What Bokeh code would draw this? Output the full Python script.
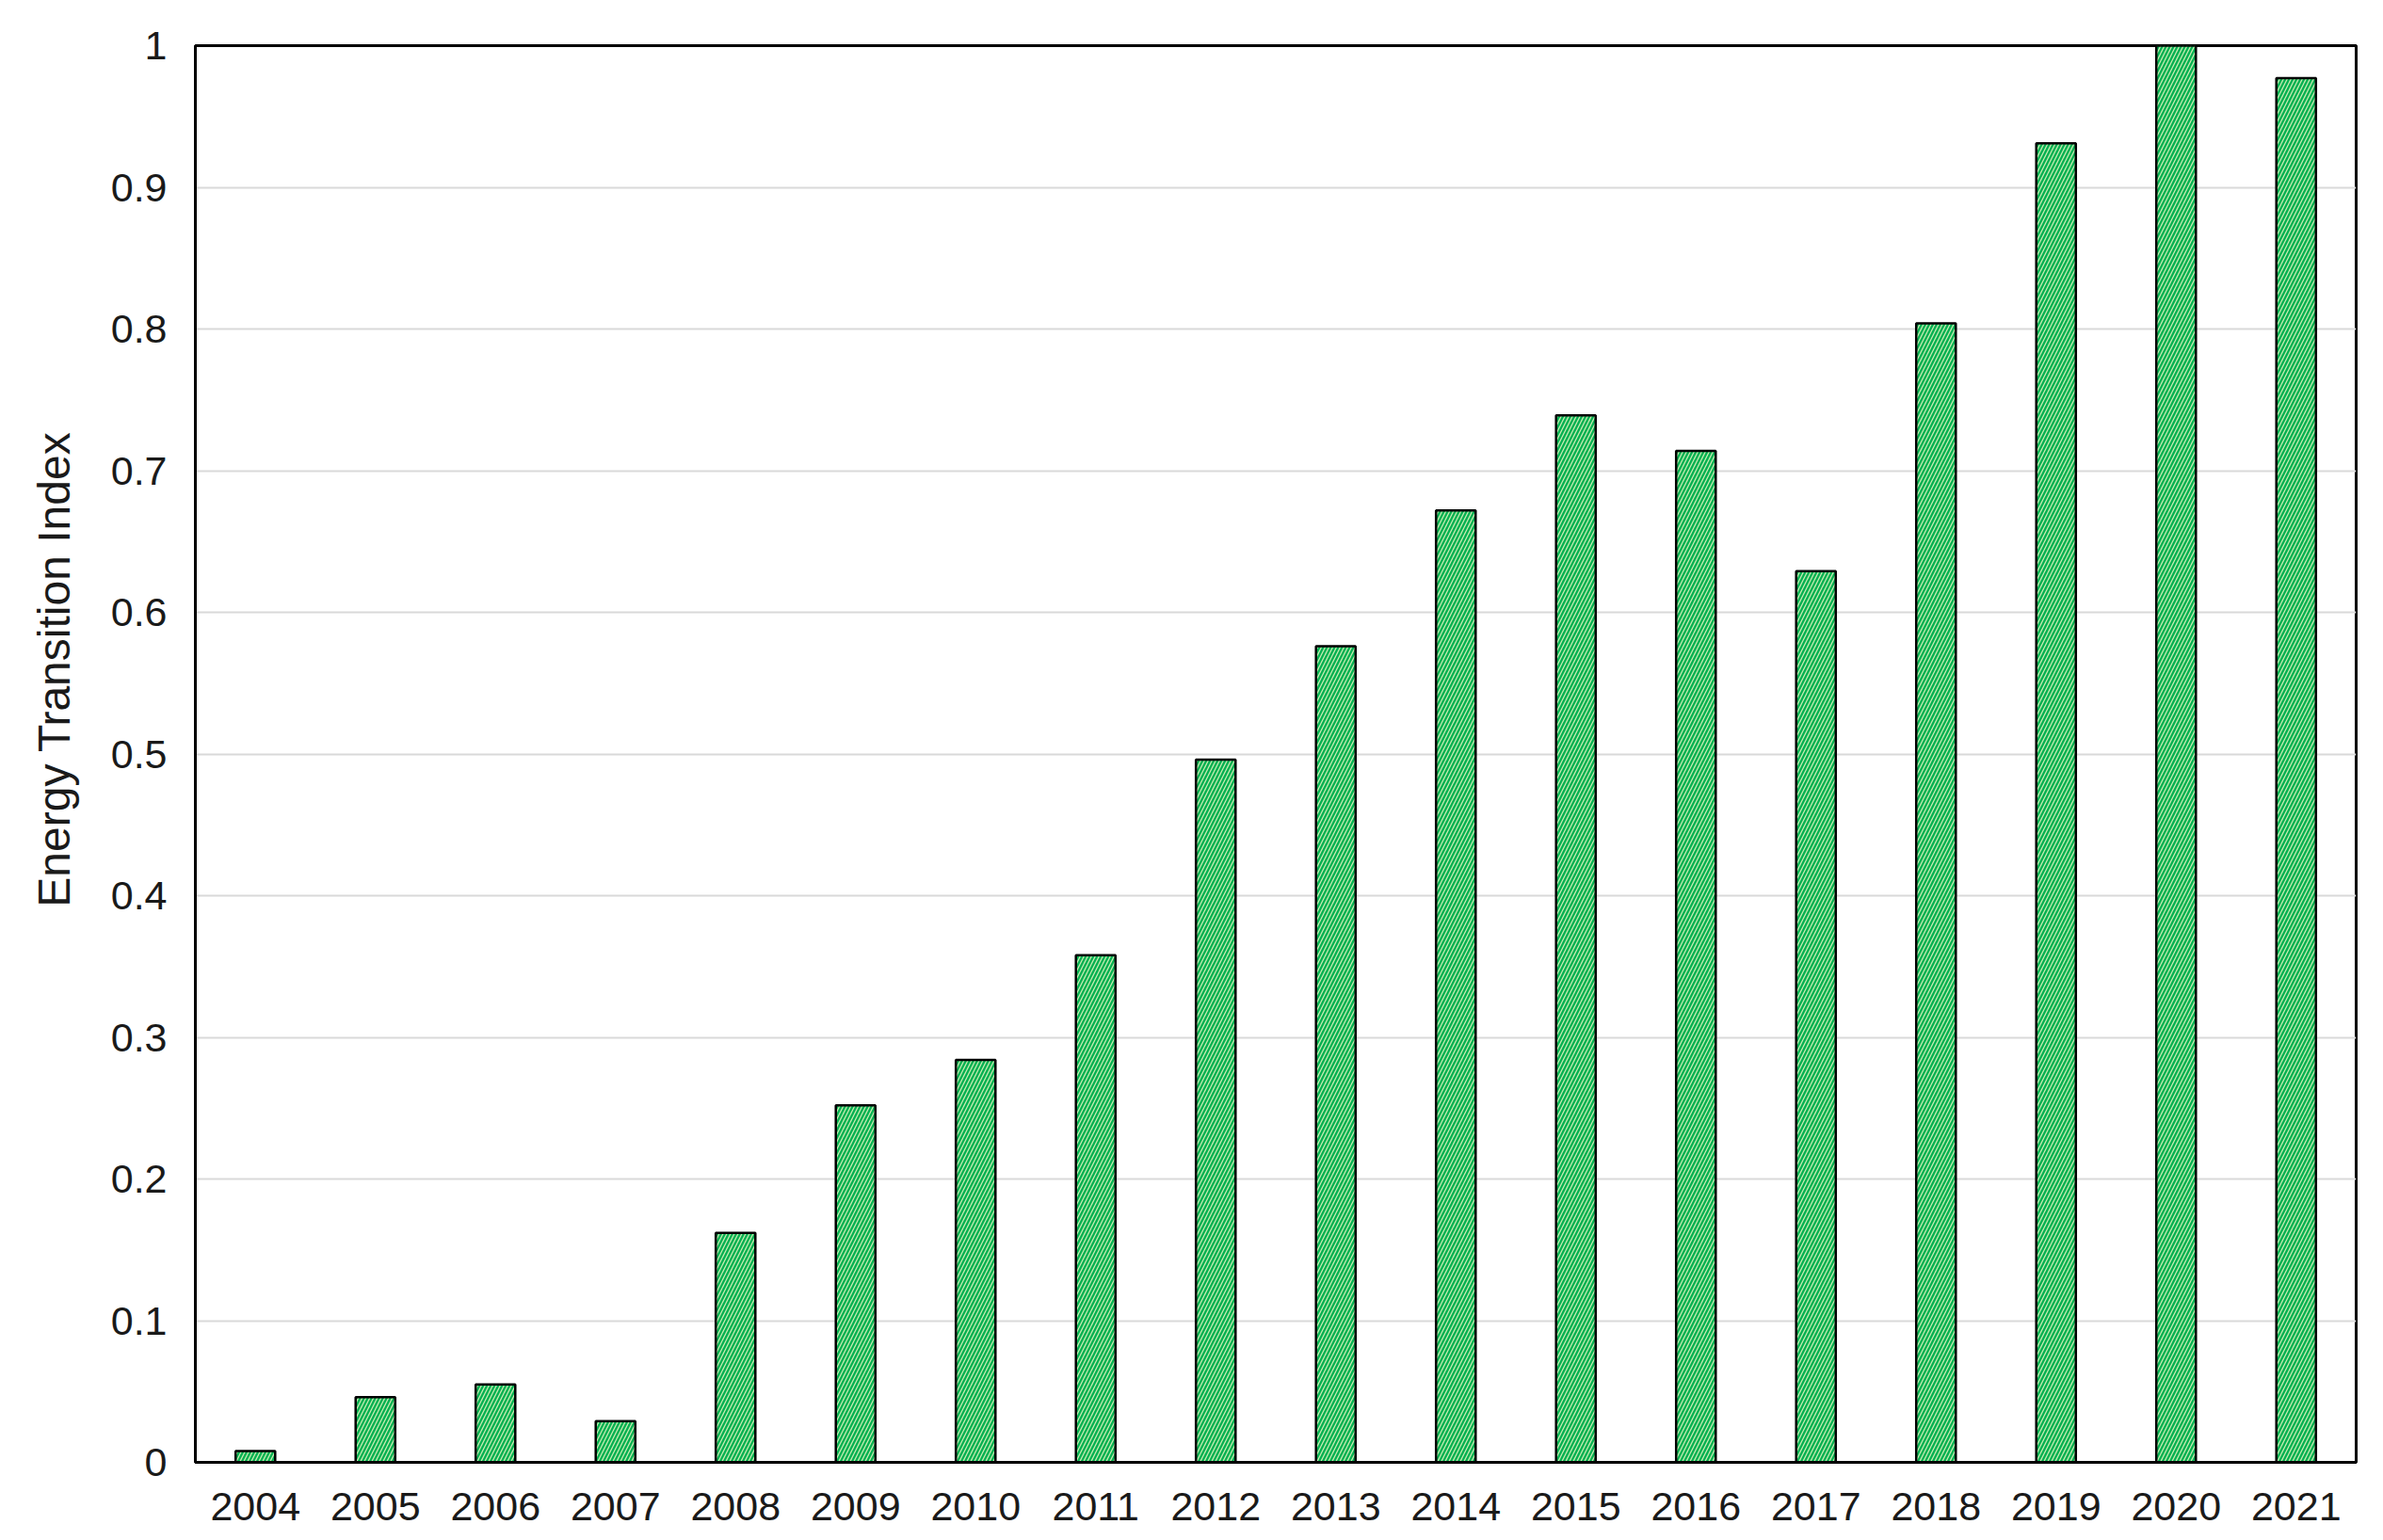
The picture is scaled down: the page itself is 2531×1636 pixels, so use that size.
from bokeh.plotting import figure
from bokeh.embed import file_html
from bokeh.resources import INLINE
from bokeh.models import FixedTicker, CustomJSTickFormatter, Title

years = ["2004", "2005", "2006", "2007", "2008", "2009", "2010", "2011", "2012",
         "2013", "2014", "2015", "2016", "2017", "2018", "2019", "2020", "2021"]
index_values = [0.008, 0.046, 0.055, 0.029, 0.162, 0.252, 0.284, 0.358, 0.496,
                0.576, 0.672, 0.739, 0.714, 0.629, 0.804, 0.931, 1.0, 0.977]
y_ticks = [0, 0.1, 0.2, 0.3, 0.4, 0.5, 0.6, 0.7, 0.8, 0.9, 1.0]
y_title = "Energy Transition Index"

W, H = 2520, 1630
p = figure(x_range=years, y_range=(0, 1), width=W, height=H,
           output_backend="svg", toolbar_location=None,
           min_border_left=150, min_border_top=48, min_border_right=18,
           min_border_bottom=77)

p.vbar(x=years, top=index_values, width=0.33, bottom=0,
       fill_color="#00b050", line_color="black", line_width=2.5,
       hatch_pattern="/", hatch_color="#c8ecb0", hatch_scale=8, hatch_weight=1.3)

p.outline_line_color = "black"
p.outline_line_width = 3
p.background_fill_color = "white"
p.border_fill_color = "white"

p.xgrid.grid_line_color = None
p.ygrid.grid_line_color = "#d9d9d9"
p.ygrid.grid_line_width = 2

p.yaxis.ticker = FixedTicker(ticks=y_ticks)
p.yaxis.formatter = CustomJSTickFormatter(code="return String(Math.round(tick*10)/10);")

for ax in [p.xaxis[0], p.yaxis[0]]:
    ax.axis_line_color = "black"
    ax.axis_line_width = 3
    ax.major_tick_line_color = None
    ax.minor_tick_line_color = None
    ax.major_label_text_font = "Liberation Sans"
    ax.major_label_text_font_size = "43px"
    ax.major_label_text_color = "#1a1a1a"
p.xaxis.major_label_standoff = 26
p.yaxis.major_label_standoff = 24
p.x_range.range_padding = 0

# y-axis title, placed like the reference (above the frame's centre)
p.add_layout(Title(text=y_title, align="right", offset=410, vertical_align="middle",
                   standoff=59, text_font="Liberation Sans", text_font_size="48px",
                   text_font_style="normal", text_color="#1a1a1a"), "left")

open("out.html", "w").write(file_html(p, INLINE))
